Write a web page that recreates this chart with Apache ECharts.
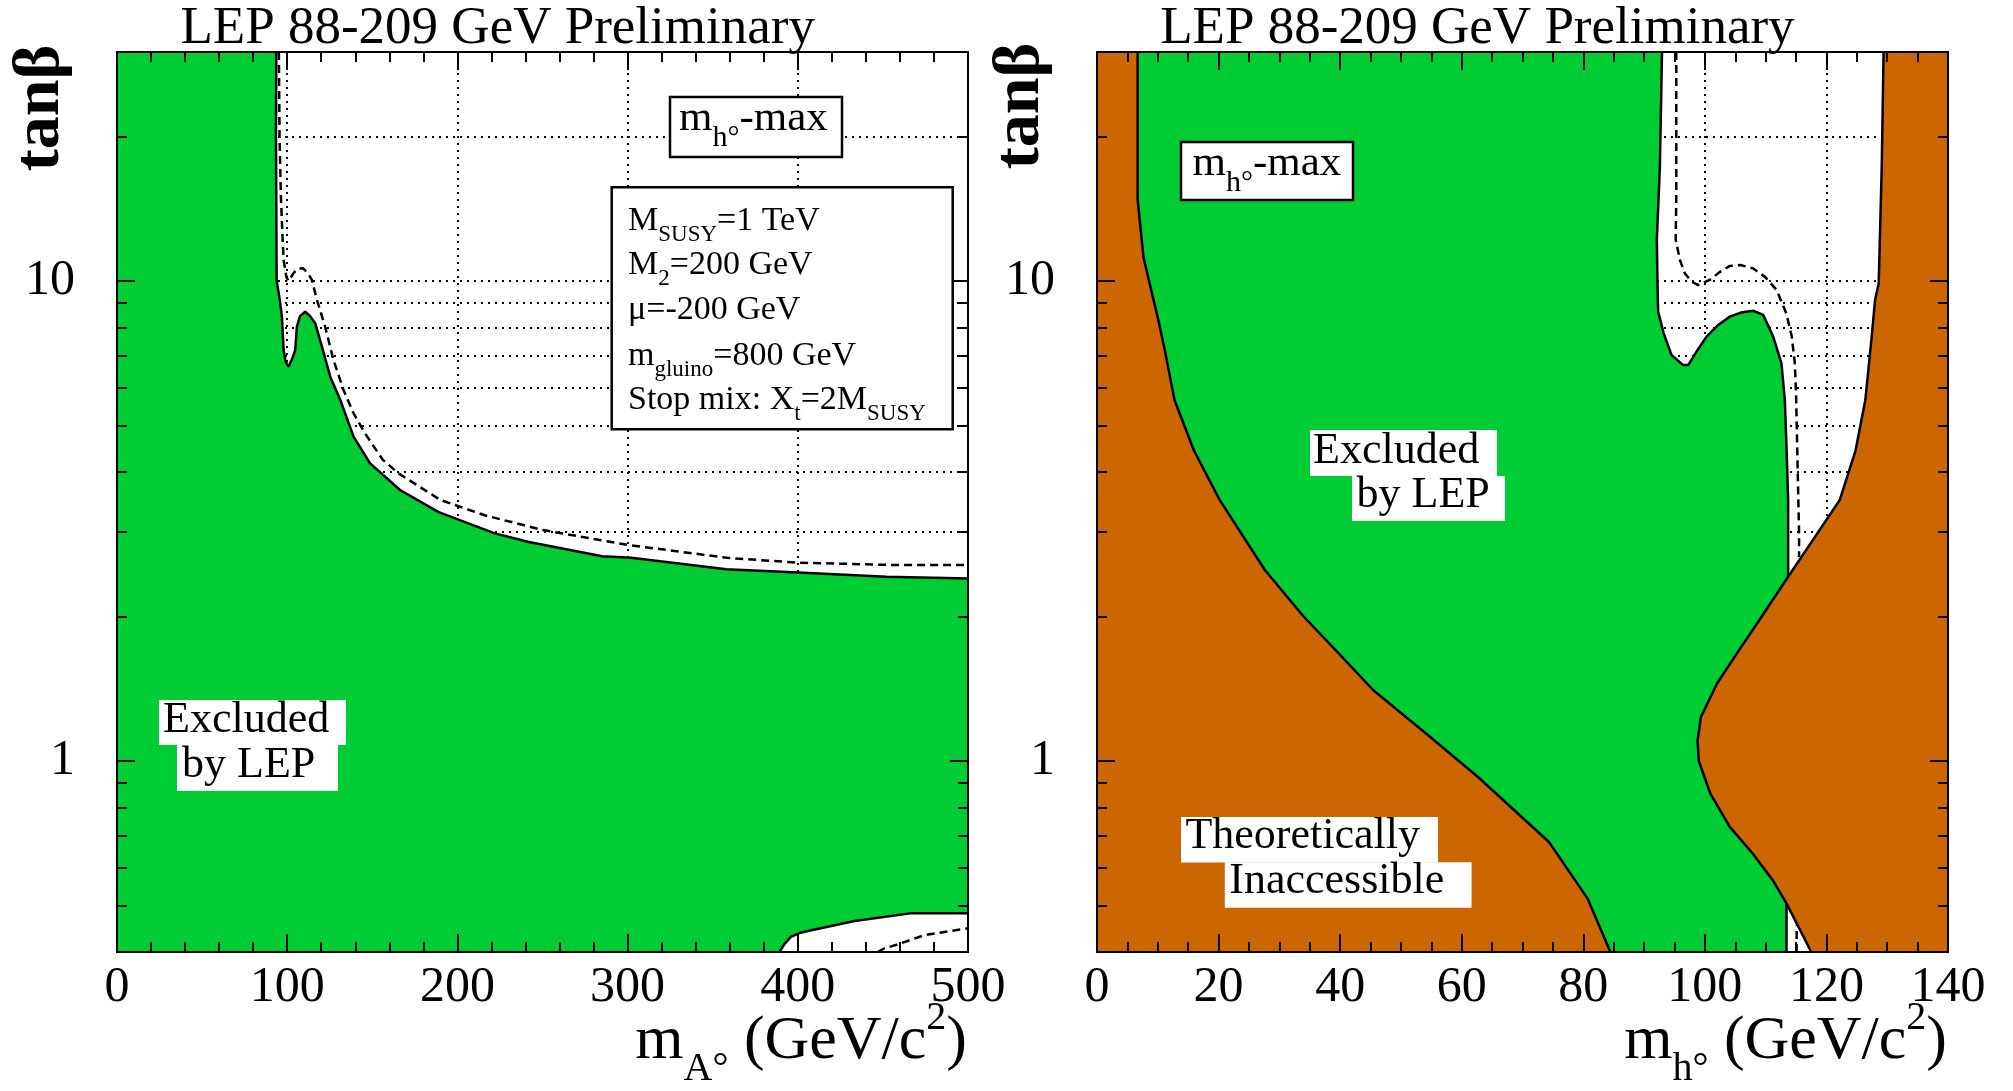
<!DOCTYPE html>
<html><head><meta charset="utf-8">
<script src="https://cdn.jsdelivr.net/npm/echarts@6/dist/echarts.min.js"></script>
<style>html,body{margin:0;padding:0;background:#fff}#c{width:2013px;height:1091px}</style>
</head><body><div id="c"></div>
<script>
// ---------------- data ----------------
const tanbRange = [0.4, 30];
const tanbMajorTicks = [1, 10];
const tanbMinorTicks = [0.5, 0.6, 0.7, 0.8, 0.9, 2, 3, 4, 5, 6, 7, 8, 9, 20];
const tanbGridValues = [0.5, 0.6, 0.7, 0.8, 0.9, 1, 2, 3, 4, 5, 6, 7, 8, 9, 10, 20];
const mARange = [0, 500];
const mhRange = [0, 140];

// left plot (mA vs tanb): observed excluded boundary (solid) and expected (dashed)
const leftObserved = [[93.6,30],[93.4,20],[93.6,14],[93.8,10],[95.5,9.2],[96.9,8.43],[97.9,7.18],[99,6.8],[100.8,6.63],[103,6.9],[104.7,7.18],[105.7,8.03],[107.5,8.45],[110.6,8.63],[113.5,8.45],[116.5,8.16],[120.4,7.30],[125.3,6.32],[131.2,5.65],[139,4.74],[148.7,4.17],[155.5,3.97],[166.3,3.67],[189,3.30],[222,2.98],[242,2.86],[285,2.67],[302,2.65],[358,2.51],[400,2.47],[452,2.42],[500,2.40]];
const leftExpected = [[95.1,30],[95.5,20],[96.3,15],[97.2,12.5],[97.9,11.06],[99.5,10.2],[100.8,10.0],[103.7,10.38],[106.5,10.62],[109.2,10.63],[112,10.4],[114.5,10.05],[117.5,9.13],[122.3,8.03],[127.2,6.84],[133.1,5.93],[139,5.30],[145.8,4.81],[156.2,4.24],[165.6,3.97],[189.9,3.50],[216,3.25],[250,3.03],[300,2.82],[358.5,2.65],[400,2.59],[456,2.56],[500,2.56]];
const leftLowObserved = [[389.2,0.4],[392,0.415],[395.9,0.43],[401,0.438],[407.2,0.4435],[433.4,0.464],[467.1,0.482],[500,0.482]];
const leftLowExpected = [[447,0.4],[450.2,0.406],[459.6,0.416],[474.6,0.434],[500,0.448]];

// right plot (mh vs tanb)
const rightTheoryLeft = [[6.69,30],[6.69,14.8],[7.65,11.2],[10.09,8.29],[11.15,7.18],[12.75,5.65],[15.93,4.44],[20.18,3.50],[27.62,2.50],[33.99,2.0],[39.3,1.70],[45.47,1.404],[54.18,1.14],[62.68,0.926],[74.36,0.678],[80.74,0.516],[84.46,0.4]];
const rightTheoryRight = [[129.4,30],[129.1,17.3],[128.6,9.89],[128.0,9.13],[127.5,7.78],[126.4,5.65],[124.8,4.44],[122.2,3.50],[118.5,2.98],[113.7,2.42],[108.9,1.96],[105.6,1.70],[102.0,1.45],[99.35,1.235],[98.8,1.104],[99.0,1.0],[100.9,0.855],[104.1,0.729],[107.9,0.641],[111.2,0.564],[113.43,0.505],[117.5,0.4]];
const rightObservedEdge = [[92.95,30],[92.6,17.3],[92.1,12.2],[92.2,10],[92.32,8.63],[93.2,7.8],[94.52,7.01],[96.43,6.68],[97.26,6.68],[98.7,7.15],[100.28,7.66],[102.2,8.1],[104.11,8.43],[106,8.6],[107.95,8.67],[109.59,8.5],[111.24,7.66],[112.6,6.74],[113.16,5.65],[113.45,4.44],[113.7,3.5],[113.7,2.42]];
const rightObservedFoot = [[113.43,0.505],[113.43,0.4]];
const rightExpected = [[95.3,30],[95.3,15],[95.2,12.2],[95.9,11.06],[96.7,10.38],[97.8,9.97],[98.9,9.81],[100.8,10.05],[102.5,10.45],[104.1,10.75],[105.8,10.8],[107.9,10.63],[109.9,10.2],[111.8,9.58],[113.4,8.56],[114.3,7.66],[114.8,6.74],[115.0,5.83],[115.26,4.10],[115.5,2.98],[115.5,2.66]];
const rightExpectedLow = [[115.1,0.4],[115.1,0.455]];

// ---------------- styling ----------------
const FONT = '"Liberation Serif", "Times New Roman", serif';
const GREEN = '#00cc33', ORANGE = '#cc6600';
const G0 = {left: 117, top: 52, width: 851, height: 900};
const G1 = {left: 1097, top: 52, width: 851, height: 900};

// polygons built from the boundaries
const leftExcludedPoly = [[0, tanbRange[1]]].concat(leftObserved, leftLowObserved.slice().reverse(), [[0, tanbRange[0]]]);
const theoryLeftPoly = [[0, tanbRange[1]]].concat(rightTheoryLeft, [[0, tanbRange[0]]]);
const theoryRightPoly = rightTheoryRight.concat([[140, tanbRange[0]], [140, tanbRange[1]]]);
const iJoin = rightTheoryRight.findIndex(p => p[0] === 113.7 && p[1] === 2.42);
const iFoot = rightTheoryRight.findIndex(p => p[1] === 0.505);
const rightExcludedPoly = rightObservedEdge.concat(rightTheoryRight.slice(iJoin + 1, iFoot + 1), [rightObservedFoot[1]], rightTheoryLeft.slice().reverse());

function polySeries(points, color, xi, yi) {
  return {
    type: 'custom', xAxisIndex: xi, yAxisIndex: yi, z: 2, silent: true, clip: true,
    data: [[points[0][0], points[0][1]]],
    renderItem: (params, api) => ({
      type: 'polygon',
      shape: {points: points.map(p => api.coord(p))},
      style: {fill: color, stroke: null}
    })
  };
}
function lineSeries(points, xi, yi, dashed) {
  return {
    type: 'line', xAxisIndex: xi, yAxisIndex: yi, data: points, showSymbol: false, symbol: 'none',
    silent: true, clip: true, z: dashed ? 3 : 4,
    lineStyle: {color: '#000', width: 2.5, type: dashed ? [8, 5] : 'solid'}
  };
}

const tickLine = {color: '#000', width: 2};
function xAxes(grid, range, interval, minorSplit) {
  const base = {type: 'value', gridIndex: grid, min: range[0], max: range[1], interval: interval};
  return [
    Object.assign({}, base, {position: 'bottom', z: 10,
      axisLine: {show: true, onZero: false, lineStyle: tickLine},
      axisTick: {show: true, inside: true, length: 18, lineStyle: tickLine},
      minorTick: {show: true, splitNumber: minorSplit, length: 10, lineStyle: tickLine},
      axisLabel: {show: true, fontSize: 50, fontFamily: FONT, color: '#000', margin: 11, showMinLabel: true, showMaxLabel: true},
      splitLine: {show: false}}),
    Object.assign({}, base, {position: 'top', z: 10,
      axisLine: {show: true, onZero: false, lineStyle: tickLine},
      axisTick: {show: true, inside: true, length: 18, lineStyle: tickLine},
      minorTick: {show: true, splitNumber: minorSplit, length: 10, lineStyle: tickLine},
      axisLabel: {show: false}, splitLine: {show: false}}),
    Object.assign({}, base, {position: 'bottom', z: 0,
      axisLine: {show: false}, axisTick: {show: false}, axisLabel: {show: false},
      splitLine: {show: true, lineStyle: {color: '#000', width: 2, type: [2, 5]}}})
  ];
}
function yAxes(grid) {
  const base = {type: 'log', logBase: 10, gridIndex: grid, min: tanbRange[0], max: tanbRange[1]};
  const mk = (pos, major, labels) => Object.assign({}, base, {position: pos, z: 10,
    axisLine: {show: true, onZero: false, lineStyle: tickLine},
    axisTick: {show: true, inside: true, length: major ? 18 : 10, lineStyle: tickLine, customValues: major ? tanbMajorTicks : tanbMinorTicks},
    minorTick: {show: false},
    axisLabel: labels ? {show: true, customValues: tanbMajorTicks, fontSize: 50, fontFamily: FONT, color: '#000', margin: 42} : {show: false},
    splitLine: {show: false}});
  return [
    mk('left', true, true), mk('left', false, false), mk('right', true, false), mk('right', false, false),
    Object.assign({}, base, {position: 'left', z: 0, axisLine: {show: false},
      axisTick: {show: false, customValues: tanbGridValues}, axisLabel: {show: false},
      splitLine: {show: true, lineStyle: {color: '#000', width: 2, type: [2, 5]}}})
  ];
}

// ---------------- text helpers ----------------
const mctx = document.createElement('canvas').getContext('2d');
function tw(t, s, w) { mctx.font = (w || 'normal') + ' ' + s + 'px ' + FONT; return mctx.measureText(t).width; }
function textRun(x, base, parts, align, weight) {
  const widths = parts.map(p => tw(p[0], p[1], weight));
  const total = widths.reduce((a, b) => a + b, 0);
  let cx = align === 'right' ? x - total : x;
  return parts.map((p, i) => {
    const el = {type: 'text', x: cx, y: base + (p[2] || 0) - 0.34 * p[1], z: 100, silent: true,
      style: {text: p[0], fontSize: p[1], fontFamily: FONT, fontWeight: weight || 'normal', fill: '#000', align: 'left', verticalAlign: 'middle'}};
    cx += widths[i];
    return el;
  });
}
function box(x, y, w, h, stroke) {
  return {type: 'rect', z: 99, silent: true, shape: {x: x, y: y, width: w, height: h},
    style: {fill: '#fff', stroke: stroke ? '#000' : null, lineWidth: stroke ? 2.5 : 0}};
}
function rotLabel(x, y, text) {
  return {type: 'text', x: x, y: y, rotation: Math.PI / 2, z: 100, silent: true,
    style: {text: text, fontSize: 66, fontFamily: FONT, fontWeight: 'bold', fill: '#000', align: 'center', verticalAlign: 'middle'}};
}

const titleText = 'LEP 88-209 GeV Preliminary';
let graphics = [];
graphics = graphics.concat(
  textRun(180.5, 46.7, [[titleText, 53]]),
  textRun(1160.2, 46.7, [[titleText, 53]]),
  [rotLabel(41, 108, 'tan\u03b2'), rotLabel(1021, 106, 'tan\u03b2')],
  textRun(967, 1063, [['m', 62], ['A\u00b0', 40, 20], [' (GeV/c', 62], ['2', 40, -31], [')', 62]], 'right'),
  textRun(1947, 1063, [['m', 62], ['h\u00b0', 40, 20], [' (GeV/c', 62], ['2', 40, -31], [')', 62]], 'right'),
  // m_h-max boxes
  [box(670, 97, 172, 60, true)],
  textRun(679, 133.3, [['m', 43], ['h\u00b0', 30, 15], ['-max', 43]]),
  [box(1181, 142, 172, 58, true)],
  textRun(1192.5, 178.3, [['m', 43], ['h\u00b0', 30, 15], ['-max', 43]]),
  // parameter box
  [box(611.7, 187.3, 341, 242, true)],
  textRun(628, 232.7, [['M', 34], ['SUSY', 23, 10], ['=1 TeV', 34]]),
  textRun(628, 276.7, [['M', 34], ['2', 23, 10], ['=200 GeV', 34]]),
  textRun(628, 321.7, [['\u03bc=-200 GeV', 34]]),
  textRun(628, 368, [['m', 34], ['gluino', 23, 10], ['=800 GeV', 34]]),
  textRun(628, 411.7, [['Stop mix: X', 34], ['t', 23, 10], ['=2M', 34], ['SUSY', 23, 10]]),
  // region labels
  [box(159, 700, 187, 45), box(177, 745, 161, 46)],
  textRun(163, 735, [['Excluded', 44]]),
  textRun(182, 780, [['by LEP', 44]]),
  [box(1310, 430, 187, 46), box(1352, 476, 153, 45)],
  textRun(1313, 466, [['Excluded', 44]]),
  textRun(1356.6, 510, [['by LEP', 44]]),
  [box(1181, 817, 257, 45.6), box(1224.8, 862.3, 246.8, 45.4)],
  textRun(1185.4, 851.7, [['Theoretically', 44]]),
  textRun(1229.3, 896.7, [['Inaccessible', 44]])
);

const option = {
  animation: false,
  backgroundColor: '#fff',
  grid: [Object.assign({outerBoundsMode: 'none', containLabel: false}, G0), Object.assign({outerBoundsMode: 'none', containLabel: false}, G1)],
  xAxis: xAxes(0, mARange, 100, 5).concat(xAxes(1, mhRange, 20, 4)),
  yAxis: yAxes(0).concat(yAxes(1)),
  series: [
    polySeries(leftExcludedPoly, GREEN, 0, 0),
    lineSeries(leftExpected, 0, 0, true),
    lineSeries(leftLowExpected, 0, 0, true),
    lineSeries(leftObserved, 0, 0, false),
    lineSeries(leftLowObserved, 0, 0, false),
    polySeries(rightExcludedPoly, GREEN, 3, 5),
    polySeries(theoryLeftPoly, ORANGE, 3, 5),
    polySeries(theoryRightPoly, ORANGE, 3, 5),
    lineSeries(rightExpected, 3, 5, true),
    lineSeries(rightExpectedLow, 3, 5, true),
    lineSeries(rightTheoryLeft, 3, 5, false),
    lineSeries(rightTheoryRight, 3, 5, false),
    lineSeries(rightObservedEdge, 3, 5, false),
    lineSeries(rightObservedFoot, 3, 5, false)
  ],
  graphic: {elements: graphics}
};
const chart = echarts.init(document.getElementById('c'), null, {renderer: 'canvas'});
chart.setOption(option);
</script></body></html>
